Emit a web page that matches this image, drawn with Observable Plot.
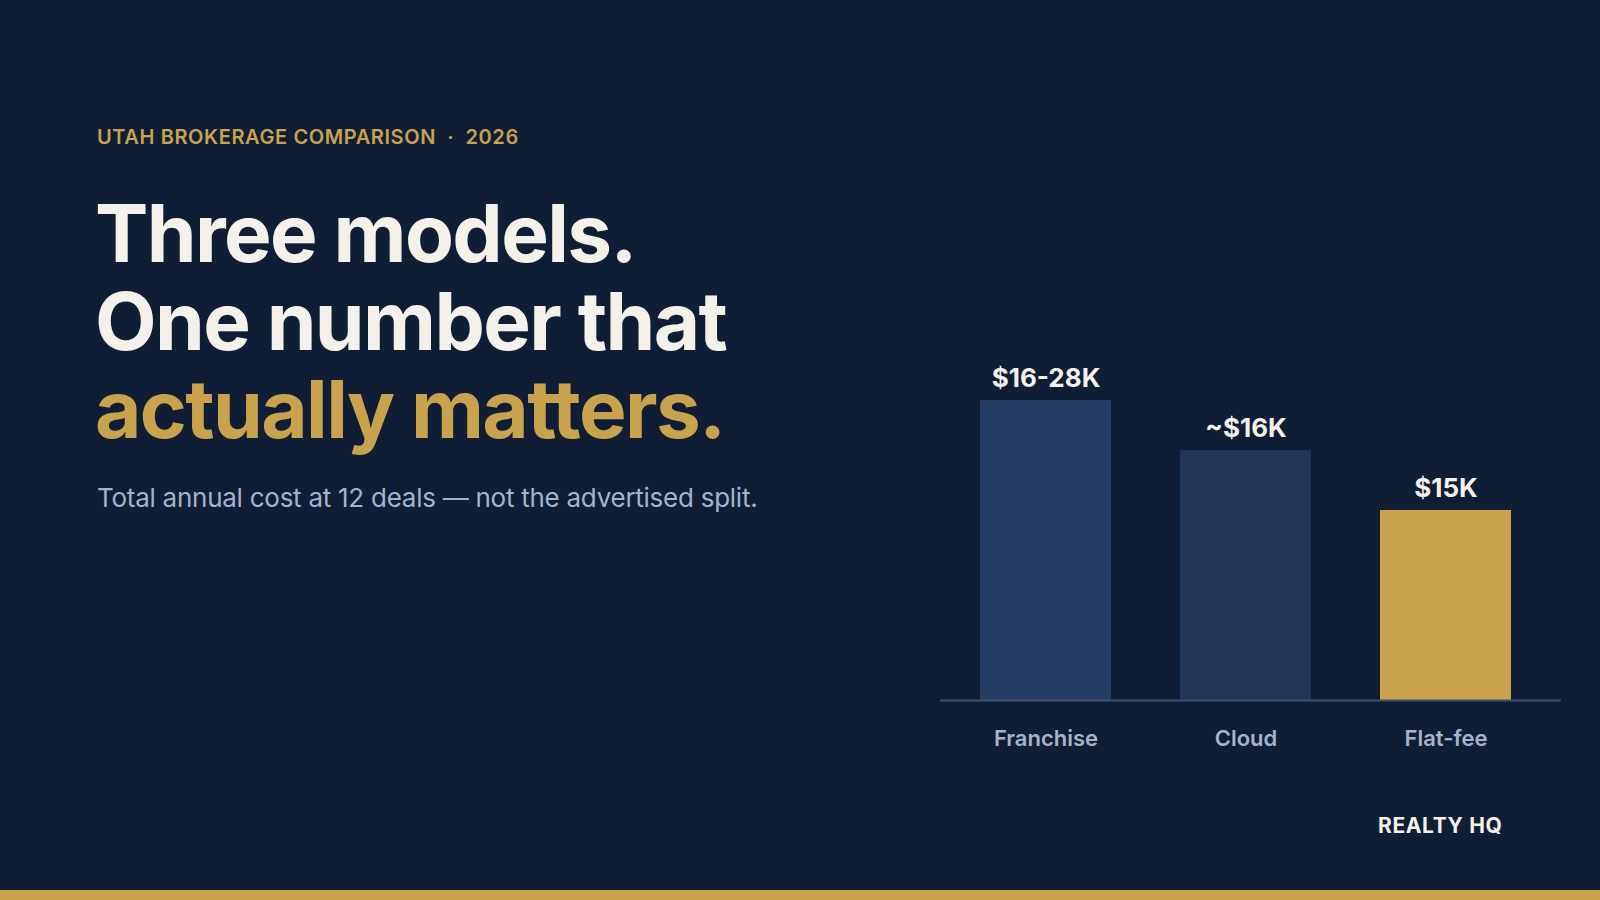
<!DOCTYPE html>
<html>
<head>
<meta charset="utf-8">
<script src="https://cdn.jsdelivr.net/npm/d3@7"></script>
<script src="https://cdn.jsdelivr.net/npm/@observablehq/plot@0.6"></script>
<style>
  html, body { margin: 0; padding: 0; }
  body { width: 1600px; height: 900px; background: #101E35; position: relative; overflow: hidden; font-family: Inter, "Noto Sans", sans-serif; }
  .eyebrow { position: absolute; left: 97px; top: 127px; font-size: 20px; line-height: 1; font-weight: 600; color: #C9A24D; letter-spacing: 0.03em; white-space: nowrap; }
  .title { position: absolute; left: 95px; top: 189px; font-size: 80px; line-height: 88px; font-weight: 700; color: #F4F1EA; letter-spacing: -0.02em; white-space: nowrap; }
  .title .gold { color: #C9A24D; }
  .sub { position: absolute; left: 97px; top: 485px; font-size: 26px; line-height: 1; font-weight: 400; color: #A3B3CC; white-space: nowrap; letter-spacing: -0.01em; }
  .brand { position: absolute; left: 1378px; top: 815px; font-size: 21px; line-height: 1; font-weight: 700; color: #F4F1EA; letter-spacing: 0.03em; white-space: nowrap; }
  .footbar { position: absolute; left: 0; top: 890px; width: 1600px; height: 10px; background: #C9A24D; }
  #chart { position: absolute; left: 940px; top: 340px; }
</style>
</head>
<body>
<div class="eyebrow">UTAH BROKERAGE COMPARISON &nbsp;·&nbsp; 2026</div>
<div class="title">Three models.<br>One number that<br><span class="gold">actually matters.</span></div>
<div class="sub">Total annual cost at 12 deals — not the advertised split.</div>
<div id="chart"></div>
<div class="brand">REALTY HQ</div>
<div class="footbar"></div>
<script>
// Data
const categories = ["Franchise", "Cloud", "Flat-fee"];
const barIndex = [30, 25, 19];           // relative bar heights as drawn
const valueLabels = ["$16-28K", "~$16K", "$15K"];
const barColors = ["#253D63", "#213559", "#C9A24D"];

const data = categories.map((c, i) => ({category: c, value: barIndex[i], label: valueLabels[i], color: barColors[i]}));

const chart = Plot.plot({
  width: 621,
  height: 420,
  marginLeft: 0,
  marginRight: 0,
  marginTop: 10,
  marginBottom: 60,
  style: {background: "transparent", fontFamily: "Inter, 'Noto Sans', sans-serif", overflow: "visible"},
  x: {domain: categories, range: [0, 611], paddingInner: 0.345, paddingOuter: 0.2, axis: null},
  y: {domain: [0, 35], axis: null},
  marks: [
    Plot.barY(data, {x: "category", y: "value", fill: "color"}),
    Plot.ruleY([0], {stroke: "#3A5073", strokeWidth: 2}),
    Plot.text(data, {x: "category", y: "value", text: "label", dy: -14, lineAnchor: "bottom", fill: "#F4F1EA", fontSize: 26, fontWeight: 700}),
    Plot.text(data, {x: "category", y: 0, text: "category", dy: 30, lineAnchor: "top", fill: "#A6B3CB", fontSize: 22, fontWeight: 600})
  ]
});
document.getElementById("chart").appendChild(chart);
</script>
</body>
</html>
